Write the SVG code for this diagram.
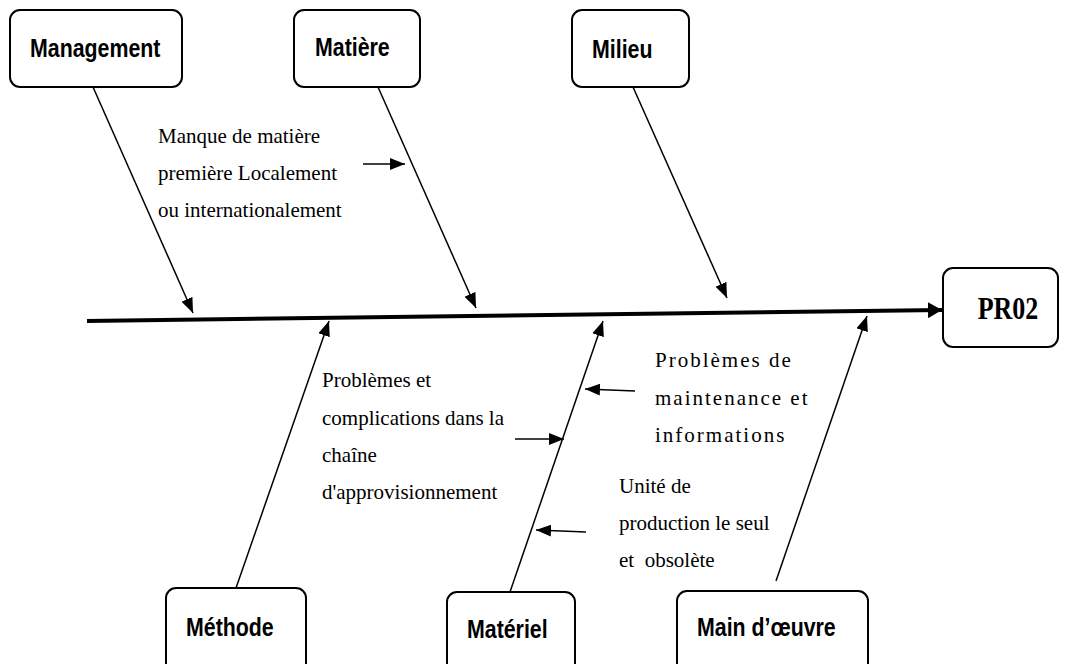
<svg xmlns="http://www.w3.org/2000/svg" width="1067" height="664" viewBox="0 0 1067 664">
  <style>
    .box { fill: #fff; stroke: #000; stroke-width: 2; }
    .lbl { font-family: "Liberation Sans", Arial, sans-serif; font-weight: bold; font-size: 24px; fill: #000; }
    .txt { font-family: "Liberation Serif", "Times New Roman", serif; font-size: 21px; fill: #000; }
    .sp { letter-spacing: 2px; }
    .branch { stroke: #000; stroke-width: 1.5; fill: none; marker-end: url(#ah); }
    .small { stroke: #000; stroke-width: 1.5; fill: none; marker-end: url(#ah); }
  </style>
  <defs>
    <marker id="ah" markerUnits="userSpaceOnUse" markerWidth="16" markerHeight="12" refX="15" refY="6" orient="auto">
      <path d="M0,0 L15,6 L0,12 Z" fill="#000"/>
    </marker>
    <marker id="ahBig" markerUnits="userSpaceOnUse" markerWidth="16" markerHeight="16" refX="14" refY="8" orient="auto">
      <path d="M0,0 L14,8 L0,16 Z" fill="#000"/>
    </marker>
  </defs>
  <rect width="1067" height="664" fill="#fff"/>

  <g id="connectors">
    <line x1="87" y1="321" x2="942" y2="310" stroke="#000" stroke-width="4" marker-end="url(#ahBig)"/>
    <line class="branch" x1="93" y1="87" x2="193" y2="313"/>
    <line class="branch" x1="378" y1="87" x2="476" y2="308"/>
    <line class="branch" x1="633" y1="87" x2="727" y2="298"/>
    <line class="branch" x1="236" y1="588" x2="329" y2="321"/>
    <line class="branch" x1="510" y1="592" x2="603" y2="321"/>
    <line class="branch" x1="776" y1="581" x2="867" y2="316"/>
    <line class="small" x1="363" y1="164" x2="405" y2="164"/>
    <line class="small" x1="515" y1="439" x2="564" y2="439"/>
    <line class="small" x1="635" y1="391" x2="585" y2="389"/>
    <line class="small" x1="586" y1="532" x2="536" y2="530"/>
  </g>

  <g id="management">
    <rect class="box" x="10" y="10" width="172" height="77" rx="10"/>
    <text class="lbl" transform="translate(30,57) scale(0.89,1.06)">Management</text>
  </g>
  <g id="matiere">
    <rect class="box" x="294" y="10" width="126" height="77" rx="10"/>
    <text class="lbl" transform="translate(315,56) scale(0.89,1.06)">Matière</text>
  </g>
  <g id="milieu">
    <rect class="box" x="572" y="10" width="117" height="77" rx="10"/>
    <text class="lbl" transform="translate(592,58) scale(0.89,1.06)">Milieu</text>
  </g>
  <g id="pr02">
    <rect class="box" x="943" y="268" width="115" height="79" rx="10"/>
    <text transform="translate(1008,319) scale(1,1.25)" text-anchor="middle" font-family="Liberation Serif, 'Times New Roman', serif" font-weight="bold" font-size="26">PR02</text>
  </g>
  <g id="methode">
    <rect class="box" x="166" y="588" width="140" height="90" rx="10"/>
    <text class="lbl" transform="translate(186,636) scale(0.89,1.06)">Méthode</text>
  </g>
  <g id="materiel">
    <rect class="box" x="447" y="592" width="128" height="90" rx="10"/>
    <text class="lbl" transform="translate(467,638) scale(0.89,1.06)">Matériel</text>
  </g>
  <g id="main-oeuvre">
    <rect class="box" x="677" y="591" width="191" height="90" rx="10"/>
    <text class="lbl" transform="translate(697,636) scale(0.89,1.06)">Main d’œuvre</text>
  </g>

  <g id="cause-matiere">
    <text class="txt" x="158" y="143">Manque de matière</text>
    <text class="txt" x="158" y="180">première Localement</text>
    <text class="txt" x="158" y="217">ou internationalement</text>
  </g>
  <g id="cause-methode">
    <text class="txt" x="322" y="387">Problèmes et</text>
    <text class="txt" x="322" y="425">complications dans la</text>
    <text class="txt" x="322" y="462">chaîne</text>
    <text class="txt" x="322" y="499">d'approvisionnement</text>
  </g>
  <g id="cause-maintenance">
    <text class="txt sp" x="655" y="367">Problèmes de</text>
    <text class="txt sp" x="655" y="405">maintenance et</text>
    <text class="txt sp" x="655" y="442">informations</text>
  </g>
  <g id="cause-unite">
    <text class="txt" x="619" y="493">Unité de</text>
    <text class="txt" x="619" y="530">production le seul</text>
    <text class="txt" x="619" y="567" style="white-space:pre">et  obsolète</text>
  </g>
</svg>
